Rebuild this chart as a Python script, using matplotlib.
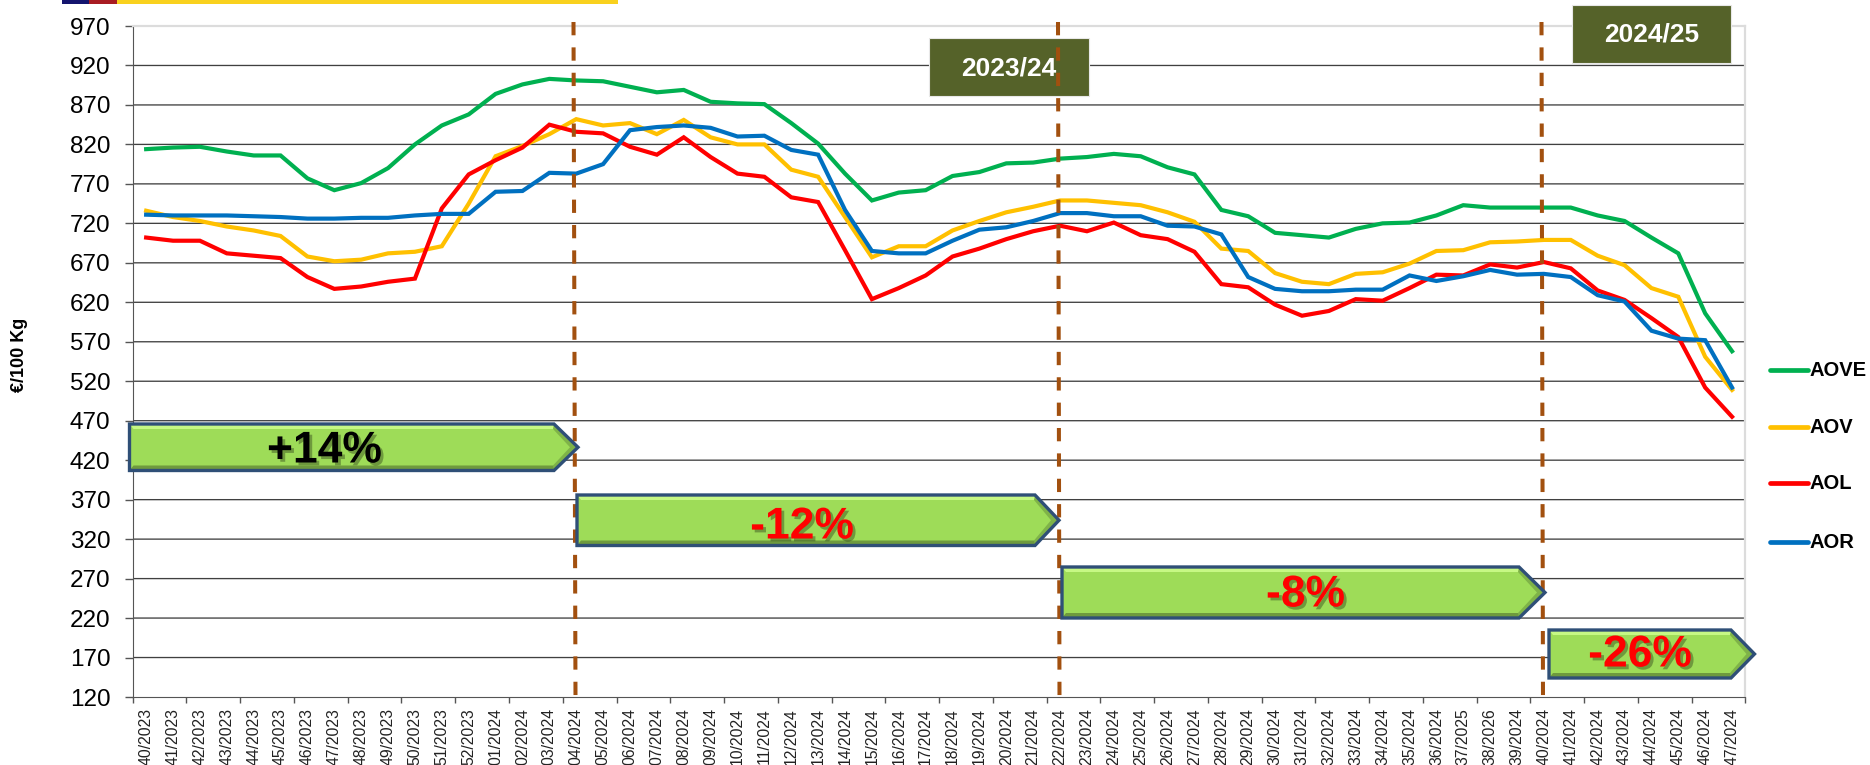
import numpy as np
import matplotlib
matplotlib.use('Agg')
import matplotlib.pyplot as plt
import matplotlib.patheffects as pe
from matplotlib.patches import Polygon, Rectangle

plt.rcParams['font.family'] = ['Liberation Sans', 'DejaVu Sans']

# week labels, 37 and 38 really have these years in the original
weeks = ['40/2023', '41/2023', '42/2023', '43/2023', '44/2023', '45/2023', '46/2023', '47/2023',
         '48/2023', '49/2023', '50/2023', '51/2023', '52/2023', '01/2024', '02/2024', '03/2024',
         '04/2024', '05/2024', '06/2024', '07/2024', '08/2024', '09/2024', '10/2024', '11/2024',
         '12/2024', '13/2024', '14/2024', '15/2024', '16/2024', '17/2024', '18/2024', '19/2024',
         '20/2024', '21/2024', '22/2024', '23/2024', '24/2024', '25/2024', '26/2024', '27/2024',
         '28/2024', '29/2024', '30/2024', '31/2024', '32/2024', '33/2024', '34/2024', '35/2024',
         '36/2024', '37/2025', '38/2026', '39/2024', '40/2024', '41/2024', '42/2024', '43/2024',
         '44/2024', '45/2024', '46/2024', '47/2024']

aove = [814, 816, 817, 811, 806, 806, 777, 762, 771, 790, 820, 844, 858, 884, 896, 903, 901, 900, 893, 886,
        889, 874, 872, 871, 847, 821, 783, 749, 759, 762, 780, 785, 796, 797, 802, 804, 808, 805, 791, 782,
        737, 729, 708, 705, 702, 713, 720, 721, 730, 743, 740, 740, 740, 740, 730, 723, 702, 682, 606, 558]
aov = [736, 728, 723, 716, 711, 704, 678, 672, 674, 682, 684, 691, 745, 805, 818, 833, 852, 844, 847, 833,
       851, 829, 820, 820, 788, 779, 728, 677, 691, 691, 711, 723, 734, 741, 749, 749, 746, 743, 734, 722,
       688, 685, 657, 646, 643, 656, 658, 669, 685, 686, 696, 697, 699, 699, 679, 667, 638, 627, 551, 509]
aol = [702, 698, 698, 682, 679, 676, 652, 637, 640, 646, 650, 739, 782, 800, 816, 845, 836, 834, 817, 807,
       829, 804, 783, 779, 753, 747, 686, 624, 638, 654, 678, 688, 700, 710, 717, 710, 721, 705, 700, 684,
       643, 639, 617, 603, 609, 624, 622, 638, 655, 654, 668, 664, 671, 663, 635, 623, 600, 576, 512, 475]
aor = [731, 730, 730, 730, 729, 728, 726, 726, 727, 727, 730, 732, 732, 760, 761, 784, 783, 795, 838, 842,
       844, 841, 830, 831, 813, 807, 737, 685, 682, 682, 698, 712, 715, 723, 733, 733, 729, 729, 717, 716,
       706, 652, 637, 634, 634, 636, 636, 654, 647, 653, 661, 655, 656, 652, 629, 621, 584, 574, 572, 512]

series_names = ['AOVE', 'AOV', 'AOL', 'AOR']
series_colors = ['#00B050', '#FFC000', '#FF0000', '#0070C0']
y_ticks = list(range(120, 971, 50))

W, H = 1870, 765
fig = plt.figure(figsize=(W / 100, H / 100), dpi=100)
L, R, T, B = 132.7, 1745.5, 26, 697
ax = fig.add_axes([L / W, 1 - B / H, (R - L) / W, (B - T) / H])

x = np.arange(len(weeks))
for vals, c in zip([aove, aov, aol, aor], series_colors):
    ax.plot(x, vals, color=c, lw=3.0, solid_joinstyle='miter', zorder=3)

ax.set_xlim(-0.5, len(weeks) - 0.5)
ax.set_ylim(120, 970)
ax.set_yticks(y_ticks)
ax.tick_params(axis='y', labelsize=17.5, length=6, width=1, color='#555555', pad=10)

# tick marks every two weeks, labels on every week
ax.set_xticks(np.arange(-0.5, len(weeks), 2))
ax.set_xticklabels([])
ax.tick_params(axis='x', which='major', length=4, width=1, color='#555555')
ax.set_xticks(x, minor=True)
ax.set_xticklabels(weeks, minor=True, rotation=90, fontsize=11.3, color='#222222')
ax.tick_params(axis='x', which='minor', length=0, pad=8)

for v in y_ticks[1:-1]:
    ln = ax.axhline(v, color='#404040', lw=0.95, zorder=1)
    ln.set_snap(False)

ax.spines['left'].set_color('#555555')
ax.spines['bottom'].set_color('#555555')
ax.spines['top'].set_color('#DCDCDC')
ax.spines['right'].set_color('#DCDCDC')
ax.spines['top'].set_linewidth(1.6)
ax.spines['right'].set_linewidth(1.6)

fig.text(20 / W, 1 - 355 / H, '€/100 Kg', rotation=90, fontsize=13, fontweight='bold', ha='center', va='center')

# everything drawn on the chart by hand goes on an overlay in pixels
ov = fig.add_axes([0, 0, 1, 1], zorder=5)
ov.set_xlim(0, W)
ov.set_ylim(H, 0)
ov.axis('off')

# strip cut off at the top
for x0, x1, c in [(62, 89, '#14146E'), (89, 117, '#A81C22'), (117, 618, '#F9D11E')]:
    ov.add_patch(Rectangle((x0, 0), x1 - x0, 4, color=c, lw=0))

# season boxes
for x0, y0, x1, y1, txt in [(928.6, 38, 1088.6, 96, '2023/24'), (1572, 5, 1731, 62.7, '2024/25')]:
    ov.add_patch(Rectangle((x0, y0), x1 - x0, y1 - y0, fc='#556229', ec='#E8E8E8', lw=0.8))
    ov.text((x0 + x1) / 2, (y0 + y1) / 2 + 1, txt, color='white', fontsize=19, fontweight='bold',
            ha='center', va='center')

# season change lines, a bit slanted like the original
for x0, x1 in [(573.5, 575.5), (1058, 1059.5), (1541.5, 1543)]:
    ov.plot([x0, x1], [22, 700], color='#A2500F', lw=2.9, dashes=(3.3, 3.0), zorder=3)


def arrow(x0, xb, xt, y0, y1, txt, tx, ty, col):
    ym = (y0 + y1) / 2
    ov.add_patch(Polygon([(x0, y0), (xb, y0), (xt, ym), (xb, y1), (x0, y1)], closed=True,
                         fc='#9EDC58', ec='none', zorder=4))
    # bevel on the top and bottom edge
    ov.add_patch(Polygon([(x0, y0), (xb, y0), (xb + 4, y0 + 5), (x0 + 4, y0 + 5)], closed=True,
                         fc='#C6F884', ec='none', zorder=4))
    ov.add_patch(Polygon([(x0, y1), (xb, y1), (xb + 5, y1 - 5), (x0 + 4, y1 - 5)], closed=True,
                         fc='#6E9A3E', ec='none', zorder=4))
    ov.add_patch(Polygon([(xb, y0), (xt, ym), (xb, y1), (xb - 1, y1 - 5), (xt - 8, ym), (xb - 1, y0 + 5)],
                         closed=True, fc='#7FB348', ec='none', zorder=4))
    ov.add_patch(Polygon([(x0, y0), (xb, y0), (xt, ym), (xb, y1), (x0, y1)], closed=True,
                         fc='none', ec='#2F4F77', lw=2.4, joinstyle='miter', zorder=4))
    ov.text(tx, ty, txt, color=col, fontsize=32, fontweight='bold', ha='center', va='center', zorder=5,
            path_effects=[pe.withSimplePatchShadow(offset=(2, -2), shadow_rgbFace='k', alpha=0.3)])


arrow(129.5, 554, 578, 424, 470.5, '+14%', 324.5, 451, 'black')
arrow(577, 1035, 1059, 495, 545.5, '-12%', 802, 527, '#FF0000')
arrow(1062, 1519, 1545, 567, 618, '-8%', 1305.5, 595, '#FF0000')
arrow(1549, 1731, 1754.5, 630, 678, '-26%', 1640, 655, '#FF0000')

# legend, placed by hand
for name, c, ly in zip(series_names, series_colors, [370, 427, 483, 542]):
    ov.plot([1770, 1808], [ly, ly], color=c, lw=3.4, solid_capstyle='round')
    ov.text(1810, ly, name, fontsize=14.5, fontweight='bold', va='center', ha='left')

fig.savefig('out.png', dpi=100)
